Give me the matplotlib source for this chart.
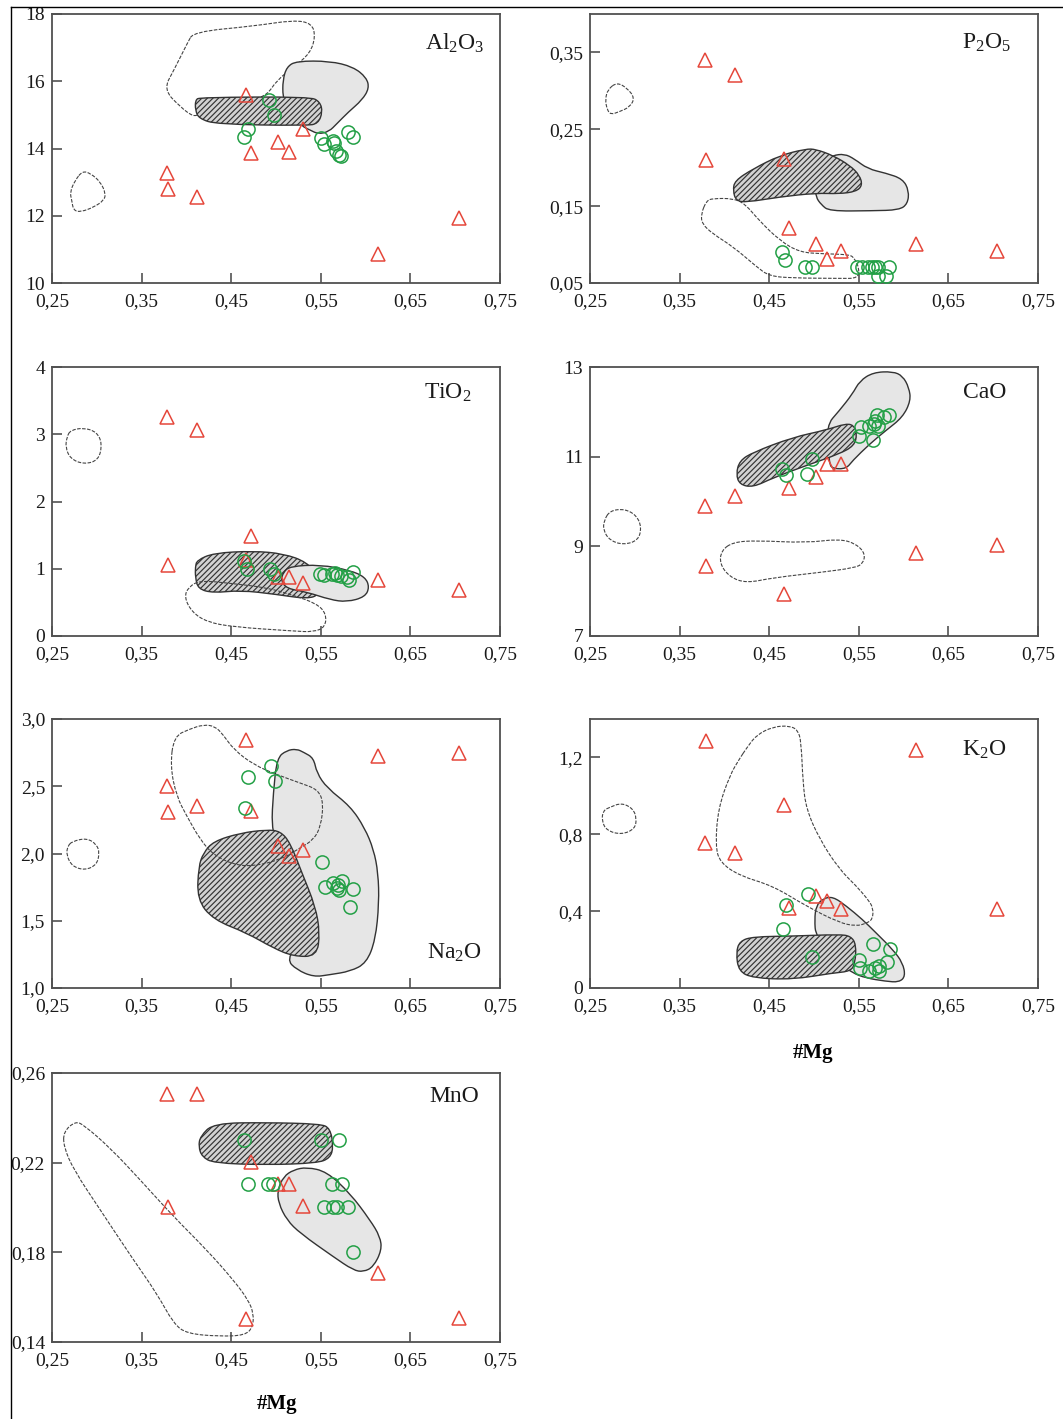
import numpy as np
import matplotlib
matplotlib.use("Agg")
import matplotlib.pyplot as plt
from matplotlib.path import Path
from matplotlib.patches import PathPatch
from matplotlib.lines import Line2D
from matplotlib.ticker import FuncFormatter

plt.rcParams['font.family'] = ['Liberation Serif', 'DejaVu Serif']
plt.rcParams['mathtext.fontset'] = 'custom'
plt.rcParams['mathtext.rm'] = 'Liberation Serif'
plt.rcParams['mathtext.it'] = 'Liberation Serif:italic'
plt.rcParams['mathtext.bf'] = 'Liberation Serif:bold'
plt.rcParams['hatch.linewidth'] = 0.85

# #Mg of the triangle samples (same for every oxide)
TRI_MG = [0.378, 0.380, 0.412, 0.466, 0.472, 0.502, 0.515, 0.530, 0.614, 0.704]

AL2O3_TRI = [13.26, 12.81, 12.56, 15.59, 13.87, 14.18, 13.90, 14.58, 10.87, 11.94]
P2O5_TRI = [0.340, 0.210, 0.321, 0.211, 0.121, 0.101, 0.081, 0.092, 0.101, 0.092]
TIO2_TRI = [3.256, 1.051, 3.058, 1.125, 1.487, 0.877, 0.877, 0.793, 0.828, 0.679]
CAO_TRI = [9.894, 8.558, 10.117, 7.942, 10.30, 10.54, 10.837, 10.837, 8.855, 9.019]
NA2O_TRI = [2.504, 2.306, 2.351, 2.846, 2.313, 2.053, 1.979, 2.028, 2.722, 2.747]
K2O_TRI = [0.755, 1.285, 0.702, 0.953, 0.418, 0.479, 0.453, 0.410, 1.238, 0.410]
MNO_TRI = [0.2506, 0.2004, 0.2506, 0.1504, 0.2205, 0.2105, 0.2105, 0.2008, 0.1706, 0.1509]

# circle samples
AL2O3_CX = [0.4645, 0.4682, 0.4924, 0.4983, 0.5504, 0.5533, 0.5634, 0.5652, 0.5667, 0.5708, 0.5723, 0.5809, 0.5857]
AL2O3_CY = [14.33, 14.57, 15.44, 14.99, 14.32, 14.13, 14.23, 14.17, 13.93, 13.81, 13.79, 14.50, 14.35]
P2O5_CX = [0.464, 0.468, 0.490, 0.4976, 0.548, 0.5536, 0.560, 0.5644, 0.568, 0.5718, 0.5718, 0.580, 0.584]
P2O5_CY = [0.090, 0.080, 0.071, 0.071, 0.071, 0.071, 0.071, 0.071, 0.071, 0.071, 0.059, 0.059, 0.071]
TIO2_CX = [0.4645, 0.4675, 0.4928, 0.498, 0.5493, 0.5537, 0.5623, 0.566, 0.5686, 0.5723, 0.579, 0.582, 0.5857]
TIO2_CY = [1.115, 1.001, 1.001, 0.927, 0.927, 0.902, 0.917, 0.937, 0.902, 0.887, 0.877, 0.828, 0.952]
CAO_CX = [0.464, 0.469, 0.492, 0.498, 0.550, 0.5525, 0.561, 0.5655, 0.5666, 0.5685, 0.5703, 0.5718, 0.5785, 0.584]
CAO_CY = [10.725, 10.60, 10.614, 10.948, 11.468, 11.668, 11.69, 11.371, 11.727, 11.787, 11.928, 11.69, 11.89, 11.935]
NA2O_CX = [0.4656, 0.4693, 0.4942, 0.499, 0.5511, 0.5548, 0.5641, 0.5686, 0.5697, 0.5708, 0.5734, 0.5827, 0.5864]
NA2O_CY = [2.338, 2.569, 2.653, 2.537, 1.934, 1.751, 1.781, 1.743, 1.768, 1.731, 1.793, 1.602, 1.736]
K2O_CX = [0.4653, 0.469, 0.4931, 0.498, 0.550, 0.5518, 0.5618, 0.5655, 0.5685, 0.573, 0.573, 0.5811, 0.5852]
K2O_CY = [0.3085, 0.4305, 0.4915, 0.1621, 0.1481, 0.1046, 0.0871, 0.2301, 0.1046, 0.1133, 0.0871, 0.1342, 0.2039]
MNO_CX = [0.4645, 0.4682, 0.4916, 0.4961, 0.5504, 0.5537, 0.5623, 0.5641, 0.5678, 0.5708, 0.5734, 0.5809, 0.5857]
MNO_CY = [0.2302, 0.2104, 0.2104, 0.2104, 0.2302, 0.2004, 0.2104, 0.2004, 0.2004, 0.2302, 0.2104, 0.2004, 0.1802]

# field outlines (#Mg, oxide)
AL2O3_BLOB = [(0.284, 13.33), (0.293, 13.26), (0.304, 13.01), (0.310, 12.66), (0.308, 12.46), (0.297, 12.26),
              (0.282, 12.11), (0.274, 12.16), (0.272, 12.46), (0.270, 12.71), (0.276, 13.06)]
AL2O3_DASH = [(0.408, 17.47), (0.475, 17.64), (0.520, 17.82), (0.540, 17.72), (0.544, 17.33), (0.538, 16.83),
              (0.520, 16.43), (0.501, 16.03), (0.490, 15.59), (0.475, 15.47), (0.415, 15.04), (0.408, 14.94),
              (0.393, 15.24), (0.3745, 15.76), (0.386, 16.33), (0.401, 17.13)]
AL2O3_HATCH = [(0.410, 15.44), (0.415, 15.52), (0.538, 15.54), (0.549, 15.39), (0.552, 15.09), (0.547, 14.74),
               (0.534, 14.68), (0.434, 14.72), (0.414, 14.89), (0.410, 15.14)]
AL2O3_GRAY = [(0.5076, 16.03), (0.512, 16.43), (0.523, 16.60), (0.560, 16.60), (0.586, 16.43), (0.601, 16.11),
              (0.604, 15.79), (0.596, 15.44), (0.581, 15.09), (0.568, 14.74), (0.559, 14.50), (0.547, 14.43),
              (0.538, 14.55), (0.529, 14.66), (0.512, 15.14), (0.5076, 15.54)]

P2O5_BLOB = [(0.280, 0.311), (0.291, 0.304), (0.300, 0.291), (0.2945, 0.279), (0.283, 0.273), (0.273, 0.269),
             (0.269, 0.276), (0.267, 0.289), (0.270, 0.302)]
P2O5_DASH = [(0.380, 0.157), (0.387, 0.160), (0.410, 0.160), (0.423, 0.153), (0.439, 0.131), (0.462, 0.105),
             (0.484, 0.090), (0.510, 0.088), (0.540, 0.087), (0.545, 0.082), (0.550, 0.071), (0.550, 0.056),
             (0.528, 0.056), (0.476, 0.0565), (0.450, 0.059), (0.436, 0.071), (0.410, 0.097), (0.387, 0.114),
             (0.375, 0.127), (0.374, 0.140)]
P2O5_HATCH = [(0.4115, 0.183), (0.432, 0.1985), (0.462, 0.216), (0.491, 0.2245), (0.502, 0.224), (0.521, 0.216),
              (0.540, 0.203), (0.551, 0.190), (0.554, 0.177), (0.547, 0.169), (0.528, 0.166), (0.502, 0.167),
              (0.462, 0.162), (0.4245, 0.155), (0.413, 0.157), (0.4096, 0.170)]
P2O5_GRAY = [(0.521, 0.216), (0.534, 0.218), (0.545, 0.2115), (0.560, 0.1985), (0.580, 0.193), (0.599, 0.1855),
             (0.606, 0.170), (0.6045, 0.153), (0.595, 0.145), (0.5655, 0.144), (0.517, 0.1435), (0.508, 0.152),
             (0.502, 0.162), (0.502, 0.175), (0.510, 0.209)]

TIO2_BLOB = [(0.2704, 3.058), (0.2853, 3.098), (0.300, 3.033), (0.306, 2.860), (0.302, 2.612), (0.2853, 2.553),
             (0.2704, 2.637), (0.265, 2.810), (0.2667, 2.959)]
TIO2_DASH = [(0.4154, 0.828), (0.4526, 0.778), (0.4898, 0.719), (0.5195, 0.605), (0.5455, 0.481), (0.556, 0.332),
             (0.555, 0.134), (0.542, 0.059), (0.5195, 0.074), (0.4526, 0.134), (0.423, 0.208), (0.406, 0.357),
             (0.3976, 0.580), (0.4024, 0.729)]
TIO2_HATCH = [(0.4117, 1.125), (0.4303, 1.234), (0.4749, 1.264), (0.5084, 1.224), (0.5344, 1.100), (0.5474, 0.877),
              (0.549, 0.62), (0.535, 0.55), (0.50, 0.62), (0.46, 0.68), (0.43, 0.64), (0.413, 0.70),
              (0.410, 0.877), (0.410, 1.026)]
TIO2_GRAY = [(0.5084, 0.952), (0.5158, 1.036), (0.5493, 1.061), (0.5827, 0.976), (0.5994, 0.877), (0.6043, 0.729),
             (0.5994, 0.580), (0.579, 0.506), (0.5604, 0.540), (0.5344, 0.654), (0.5121, 0.704), (0.5054, 0.828)]

CAO_BLOB = [(0.2723, 9.798), (0.289, 9.835), (0.302, 9.686), (0.3075, 9.427), (0.3038, 9.13), (0.2871, 9.033),
            (0.2723, 9.13), (0.2648, 9.353), (0.2656, 9.575)]
CAO_DASH = [(0.4096, 9.093), (0.4356, 9.13), (0.4913, 9.078), (0.5284, 9.167), (0.547, 9.056), (0.5573, 8.833),
            (0.5544, 8.610), (0.5451, 8.521), (0.5098, 8.425), (0.4542, 8.299), (0.4245, 8.180), (0.4059, 8.314),
            (0.3948, 8.610), (0.3966, 8.907)]
CAO_HATCH = [(0.417, 10.911), (0.432, 11.097), (0.476, 11.43), (0.5135, 11.594), (0.536, 11.742), (0.545, 11.69),
             (0.548, 11.505), (0.545, 11.245), (0.528, 11.059), (0.491, 10.80), (0.454, 10.525), (0.432, 10.317),
             (0.417, 10.377), (0.413, 10.614)]
CAO_GRAY = [(0.5135, 11.69), (0.528, 12.02), (0.543, 12.40), (0.551, 12.69), (0.566, 12.88), (0.588, 12.90),
            (0.599, 12.80), (0.606, 12.54), (0.608, 12.25), (0.599, 11.88), (0.580, 11.58), (0.562, 11.28),
            (0.543, 10.91), (0.536, 10.73), (0.521, 10.73), (0.517, 10.84)]

NA2O_BLOB = [(0.2723, 2.090), (0.289, 2.115), (0.300, 2.066), (0.303, 2.004), (0.300, 1.917), (0.287, 1.875),
             (0.2723, 1.905), (0.266, 1.991), (0.2675, 2.053)]
NA2O_DASH = [(0.386, 2.871), (0.404, 2.926), (0.419, 2.958), (0.432, 2.946), (0.441, 2.883), (0.453, 2.772),
             (0.475, 2.660), (0.501, 2.586), (0.527, 2.524), (0.547, 2.475), (0.553, 2.375), (0.550, 2.202),
             (0.542, 2.103), (0.527, 2.041), (0.505, 1.954), (0.475, 1.905), (0.4526, 1.917), (0.430, 1.991),
             (0.4154, 2.103), (0.4006, 2.276), (0.389, 2.425), (0.382, 2.648)]
NA2O_HATCH = [(0.419, 2.004), (0.430, 2.090), (0.460, 2.152), (0.490, 2.177), (0.505, 2.165), (0.516, 2.078),
              (0.529, 1.855), (0.544, 1.607), (0.549, 1.409), (0.5455, 1.235), (0.5195, 1.235), (0.497, 1.297),
              (0.4675, 1.409), (0.430, 1.508), (0.412, 1.657), (0.4136, 1.905)]
NA2O_GRAY = [(0.501, 2.710), (0.512, 2.767), (0.523, 2.777), (0.531, 2.752), (0.542, 2.710), (0.5455, 2.599),
             (0.557, 2.487), (0.583, 2.351), (0.599, 2.190), (0.609, 2.029), (0.614, 1.855), (0.615, 1.632),
             (0.611, 1.359), (0.601, 1.186), (0.583, 1.124), (0.560, 1.099), (0.542, 1.082), (0.523, 1.136),
             (0.512, 1.211), (0.527, 1.359), (0.5195, 1.756), (0.501, 2.078), (0.495, 2.202), (0.497, 2.450)]

K2O_BLOB = [(0.2723, 0.941), (0.2853, 0.964), (0.2983, 0.9325), (0.302, 0.880), (0.300, 0.828), (0.2853, 0.798),
            (0.2686, 0.819), (0.263, 0.8715), (0.2648, 0.924)]
K2O_DASH = [(0.4244, 1.246), (0.4356, 1.316), (0.4542, 1.360), (0.4727, 1.365), (0.482, 1.342), (0.4857, 1.281),
            (0.4876, 1.072), (0.4913, 0.9325), (0.506, 0.776), (0.528, 0.619), (0.547, 0.532), (0.560, 0.462),
            (0.566, 0.418), (0.5655, 0.357), (0.558, 0.336), (0.547, 0.322), (0.528, 0.340), (0.491, 0.427),
            (0.454, 0.532), (0.417, 0.584), (0.395, 0.654), (0.390, 0.741), (0.393, 0.9325), (0.406, 1.107),
            (0.417, 1.194)]
K2O_HATCH = [(0.417, 0.244), (0.432, 0.267), (0.476, 0.270), (0.528, 0.279), (0.541, 0.270), (0.547, 0.227),
             (0.546, 0.131), (0.541, 0.087), (0.521, 0.078), (0.476, 0.044), (0.432, 0.052), (0.416, 0.087),
             (0.413, 0.183)]
K2O_GRAY = [(0.5024, 0.427), (0.5098, 0.465), (0.521, 0.476), (0.536, 0.427), (0.554, 0.357), (0.569, 0.288),
            (0.588, 0.200), (0.599, 0.131), (0.602, 0.061), (0.595, 0.030), (0.580, 0.035), (0.558, 0.052),
            (0.543, 0.078), (0.528, 0.131), (0.502, 0.267), (0.5006, 0.357)]

MNO_DASH = [(0.263, 0.2339), (0.276, 0.2384), (0.2853, 0.2369), (0.3151, 0.2265), (0.3485, 0.2123), (0.3857, 0.1959),
            (0.4229, 0.181), (0.4526, 0.1676), (0.4693, 0.1586), (0.4749, 0.1527), (0.4742, 0.1467), (0.4656, 0.143),
            (0.4377, 0.1425), (0.4006, 0.1437), (0.3857, 0.1482), (0.3671, 0.1616), (0.3411, 0.1765),
            (0.3039, 0.1989), (0.2742, 0.2168), (0.263, 0.2272)]
MNO_HATCH = [(0.4154, 0.2317), (0.4303, 0.2376), (0.4898, 0.2379), (0.5493, 0.2373), (0.5604, 0.2354),
             (0.5641, 0.2272), (0.5604, 0.222), (0.5455, 0.2198), (0.4898, 0.219), (0.4303, 0.2198),
             (0.4173, 0.2227), (0.4136, 0.2272)]
MNO_GRAY = [(0.5084, 0.2138), (0.5195, 0.2168), (0.5344, 0.218), (0.5567, 0.216), (0.5827, 0.2063), (0.605, 0.1944),
            (0.6162, 0.187), (0.618, 0.181), (0.6087, 0.1735), (0.5976, 0.1713), (0.5864, 0.172), (0.5641, 0.178),
            (0.527, 0.1885), (0.5121, 0.1944), (0.5028, 0.2019), (0.5017, 0.2078)]

X_TICKS = [0.25, 0.35, 0.45, 0.55, 0.65, 0.75]

EDGE = '#333333'
RED = '#e5473b'
GREEN = '#23a046'


def closed_curve(pts):
    """Smooth closed outline through the field vertices (quadratic bezier segments)."""
    pts = np.asarray(pts, float)
    mids = (pts + np.roll(pts, -1, axis=0)) / 2
    verts = [mids[-1]]
    codes = [Path.MOVETO]
    for p, m in zip(pts, mids):
        verts += [p, m]
        codes += [Path.CURVE3, Path.CURVE3]
    return Path(verts, codes)


def comma_fmt(decimals, plain_zero=False):
    def f(v, pos):
        if plain_zero and abs(v) < 1e-9:
            return "0"
        return f"{v:.{decimals}f}".replace(".", ",")
    return FuncFormatter(f)


def draw_field(ax, kind, pts):
    path = closed_curve(pts)
    if kind == 'hatch':
        patch = PathPatch(path, facecolor='#d2d2d2', edgecolor=EDGE, hatch='//////', lw=1.0)
    elif kind == 'gray':
        patch = PathPatch(path, facecolor='#e6e6e6', edgecolor=EDGE, lw=1.0)
    else:
        patch = PathPatch(path, fill=False, edgecolor='#444444', lw=0.8, ls=(0, (3.2, 1.3)))
    ax.add_patch(patch)


COL_L, COL_R = 52 / 1063, 590 / 1063
W = 448 / 1063
H = 269 / 1419

panels = [
    dict(pos=(COL_L, 1 - 283 / 1419), title=r"Al$_2$O$_3$", tpos=(0.966, 0.935, 'top'),
         ylim=(10, 18), yticks=[10, 12, 14, 16, 18], dec=0, tri=AL2O3_TRI, cx=AL2O3_CX, cy=AL2O3_CY,
         fields=[('dash', AL2O3_BLOB), ('dash', AL2O3_DASH), ('gray', AL2O3_GRAY), ('hatch', AL2O3_HATCH)]),
    dict(pos=(COL_R, 1 - 283 / 1419), title=r"P$_2$O$_5$", tpos=(0.94, 0.935, 'top'),
         ylim=(0.05, 0.40), yticks=[0.05, 0.15, 0.25, 0.35], dec=2, tri=P2O5_TRI, cx=P2O5_CX, cy=P2O5_CY,
         fields=[('dash', P2O5_BLOB), ('dash', P2O5_DASH), ('gray', P2O5_GRAY), ('hatch', P2O5_HATCH)]),
    dict(pos=(COL_L, 1 - 636 / 1419), title=r"TiO$_2$", tpos=(0.937, 0.945, 'top'),
         ylim=(0, 4), yticks=[0, 1, 2, 3, 4], dec=0, tri=TIO2_TRI, cx=TIO2_CX, cy=TIO2_CY,
         fields=[('dash', TIO2_BLOB), ('hatch', TIO2_HATCH), ('dash', TIO2_DASH), ('gray', TIO2_GRAY)]),
    dict(pos=(COL_R, 1 - 636 / 1419), title="CaO", tpos=(0.93, 0.945, 'top'),
         ylim=(7, 13), yticks=[7, 9, 11, 13], dec=0, tri=CAO_TRI, cx=CAO_CX, cy=CAO_CY,
         fields=[('dash', CAO_BLOB), ('dash', CAO_DASH), ('gray', CAO_GRAY), ('hatch', CAO_HATCH)]),
    dict(pos=(COL_L, 1 - 988 / 1419), title=r"Na$_2$O", tpos=(0.96, 0.13, 'center'),
         ylim=(1, 3), yticks=[1.0, 1.5, 2.0, 2.5, 3.0], dec=1, tri=NA2O_TRI, cx=NA2O_CX, cy=NA2O_CY,
         fields=[('dash', NA2O_BLOB), ('gray', NA2O_GRAY), ('hatch', NA2O_HATCH), ('dash', NA2O_DASH)]),
    dict(pos=(COL_R, 1 - 988 / 1419), title=r"K$_2$O", tpos=(0.93, 0.925, 'top'),
         ylim=(0, 1.4), yticks=[0, 0.4, 0.8, 1.2], dec=1, zero=True, tri=K2O_TRI, cx=K2O_CX, cy=K2O_CY,
         fields=[('dash', K2O_BLOB), ('gray', K2O_GRAY), ('hatch', K2O_HATCH), ('dash', K2O_DASH)]),
    dict(pos=(COL_L, 1 - 1342 / 1419), title="MnO", tpos=(0.953, 0.95, 'top'),
         ylim=(0.14, 0.26), yticks=[0.14, 0.18, 0.22, 0.26], dec=2, tri=MNO_TRI, cx=MNO_CX, cy=MNO_CY,
         fields=[('dash', MNO_DASH), ('gray', MNO_GRAY), ('hatch', MNO_HATCH)]),
]

fig = plt.figure(figsize=(10.63, 14.19), dpi=100)

for p in panels:
    ax = fig.add_axes([p['pos'][0], p['pos'][1], W, H])
    for kind, pts in p['fields']:
        draw_field(ax, kind, pts)
    ax.plot(TRI_MG, p['tri'], ls='none', marker='^', ms=10, mfc='none', mec=RED, mew=1.1, zorder=5)
    ax.plot(p['cx'], p['cy'], ls='none', marker='o', ms=9.5, mfc='none', mec=GREEN, mew=1.1, zorder=6)

    ax.set_xlim(0.25, 0.75)
    ax.set_ylim(*p['ylim'])
    ax.set_xticks(X_TICKS)
    ax.set_yticks(p['yticks'])
    ax.xaxis.set_major_formatter(comma_fmt(2))
    ax.yaxis.set_major_formatter(comma_fmt(p['dec'], p.get('zero', False)))
    ax.tick_params(direction='in', length=7, width=1.1, color='#444444', labelsize=14,
                   labelcolor='#1a1a1a')
    ax.tick_params(axis='x', pad=7)
    ax.tick_params(axis='y', pad=5)
    for s in ax.spines.values():
        s.set_color('#505050')
        s.set_linewidth(1.3)

    tx, ty, va = p['tpos']
    ax.text(tx, ty, p['title'], transform=ax.transAxes, ha='right', va=va, fontsize=17, color='#1a1a1a')

fig.text(813 / 1063, 1 - 1053 / 1419, "#Mg", ha='center', va='center', fontsize=15, fontweight='bold')
fig.text(277 / 1063, 1 - 1404 / 1419, "#Mg", ha='center', va='center', fontsize=15, fontweight='bold')

# page frame lines
fig.add_artist(Line2D([11 / 1063, 11 / 1063], [0, 1 - 7 / 1419], transform=fig.transFigure, color='black', lw=1))
fig.add_artist(Line2D([11 / 1063, 1], [1 - 7 / 1419, 1 - 7 / 1419], transform=fig.transFigure, color='black', lw=1))

fig.savefig('out.png', dpi=100)
